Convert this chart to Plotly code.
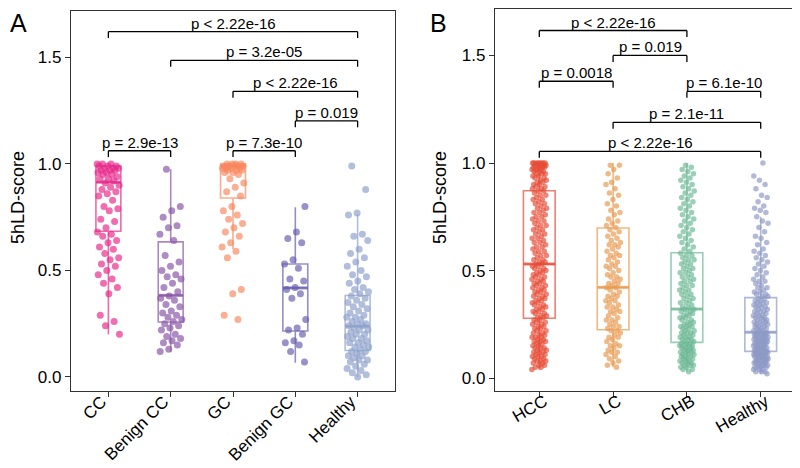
import plotly.graph_objects as go

FONT = "Liberation Sans, Arial, sans-serif"

# ---------------- Panel A data ----------------
cats_a = ["CC", "Benign CC", "GC", "Benign GC", "Healthy"]
cc = [1.0, 1.0, 1.0, 0.99, 0.99, 0.99, 0.98, 0.98, 0.98, 0.97, 0.97, 0.97, 0.96, 0.96, 0.95, 0.95,
      0.94, 0.93, 0.93, 0.92, 0.91, 0.90, 0.89, 0.88, 0.87, 0.86, 0.85, 0.83, 0.80, 0.79, 0.78, 0.74,
      0.73, 0.70, 0.68, 0.67, 0.66, 0.64, 0.63, 0.61, 0.60, 0.58, 0.56, 0.55, 0.53, 0.52, 0.50, 0.48,
      0.46, 0.44, 0.42, 0.39, 0.29, 0.26, 0.24, 0.20]
benign_cc = [0.975, 0.80, 0.78, 0.75, 0.71, 0.70, 0.67, 0.64, 0.57, 0.54, 0.52, 0.50, 0.48, 0.47, 0.46,
             0.44, 0.42, 0.40, 0.38, 0.37, 0.36, 0.34, 0.33, 0.31, 0.30, 0.29, 0.28, 0.27, 0.26, 0.25,
             0.24, 0.23, 0.22, 0.20, 0.19, 0.18, 0.17, 0.16, 0.15, 0.13, 0.12]
gc = [1.0, 1.0, 1.0, 1.0, 0.99, 0.99, 0.99, 0.99, 0.99, 0.98, 0.98, 0.98, 0.98, 0.97, 0.97, 0.97, 0.96,
      0.96, 0.95, 0.93, 0.91, 0.89, 0.87, 0.85, 0.80, 0.78, 0.76, 0.74, 0.72, 0.70, 0.68, 0.66, 0.63,
      0.61, 0.59, 0.56, 0.41, 0.39, 0.29, 0.27]
benign_gc = [0.80, 0.68, 0.65, 0.63, 0.55, 0.53, 0.51, 0.46, 0.45, 0.42, 0.41, 0.39, 0.37, 0.27, 0.23,
             0.22, 0.20, 0.17, 0.16, 0.15, 0.12, 0.07]
healthy_a = [0.99, 0.88, 0.77, 0.76, 0.67, 0.66, 0.64, 0.60, 0.58, 0.56, 0.54, 0.52, 0.50, 0.48, 0.47,
             0.45, 0.44, 0.42, 0.41, 0.40, 0.39, 0.38, 0.37, 0.36, 0.35, 0.34, 0.33, 0.32, 0.31, 0.30,
             0.29, 0.28, 0.28, 0.27, 0.26, 0.25, 0.25, 0.24, 0.24, 0.23, 0.22, 0.22, 0.21, 0.20, 0.20,
             0.19, 0.18, 0.18, 0.17, 0.16, 0.16, 0.15, 0.14, 0.14, 0.13, 0.12, 0.12, 0.11, 0.10, 0.10,
             0.09, 0.08, 0.08, 0.07, 0.06, 0.05, 0.04, 0.03, 0.02, 0.01, 0.0]
vals_a = [cc, benign_cc, gc, benign_gc, healthy_a]
q1_a = [0.684, 0.258, 0.84, 0.216, 0.124]
med_a = [0.914, 0.383, 0.99, 0.418, 0.238]
q3_a = [0.99, 0.634, 1.0, 0.53, 0.382]
lo_a = [0.20, 0.12, 0.60, 0.067, 0.0]
hi_a = [1.0, 0.975, 1.0, 0.797, 0.765]
colors_a = ["#E7298A", "#8856A7", "#F7875E", "#675EB0", "#8DA0CB"]
comp_a = [(0, 4, "p < 2.22e-16"), (1, 4, "p = 3.2e-05"), (2, 4, "p < 2.22e-16"),
          (3, 4, "p = 0.019"), (0, 1, "p = 2.9e-13"), (2, 3, "p = 7.3e-10")]
level_a = [1.621, 1.486, 1.341, 1.202, 1.062, 1.062]

# ---------------- Panel B data ----------------
cats_b = ["HCC", "LC", "CHB", "Healthy"]
hcc = [0.04, 0.05, 0.05, 0.06, 0.06, 0.07, 0.07, 0.08, 0.08, 0.08, 0.09, 0.09, 0.10, 0.10, 0.10,
       0.11, 0.11, 0.12, 0.12, 0.12, 0.13, 0.13, 0.14, 0.14, 0.14, 0.15, 0.15, 0.16, 0.16, 0.17, 0.17,
       0.17, 0.18, 0.18, 0.19, 0.19, 0.19, 0.20, 0.20, 0.21,
       0.21, 0.22, 0.22, 0.23, 0.23, 0.24, 0.24, 0.25, 0.25, 0.26, 0.26, 0.27, 0.27, 0.28, 0.28,
       0.29, 0.29, 0.30, 0.30, 0.31, 0.31, 0.32, 0.32, 0.33, 0.33, 0.34, 0.34, 0.35, 0.35, 0.36, 0.36,
       0.37, 0.37, 0.38, 0.38, 0.39, 0.39, 0.40, 0.40,
       0.41, 0.41, 0.42, 0.42, 0.43, 0.43, 0.44, 0.44, 0.45, 0.45, 0.46, 0.46, 0.47, 0.47, 0.48, 0.48,
       0.49, 0.49, 0.50, 0.50, 0.51, 0.51, 0.52, 0.52, 0.53, 0.53,
       0.54, 0.54, 0.55, 0.55, 0.56, 0.57, 0.57, 0.58, 0.59, 0.59, 0.60, 0.61, 0.61, 0.62, 0.63, 0.63,
       0.64, 0.65, 0.65, 0.66, 0.67, 0.67, 0.68, 0.69, 0.69, 0.70,
       0.71, 0.71, 0.72, 0.73, 0.73, 0.74, 0.75, 0.75, 0.76, 0.77, 0.77, 0.78, 0.79, 0.79, 0.80, 0.81,
       0.81, 0.82, 0.83, 0.83, 0.84, 0.85, 0.85, 0.86, 0.87,
       0.87, 0.88, 0.88, 0.89, 0.89, 0.90, 0.90, 0.91, 0.91, 0.92, 0.92, 0.93, 0.93, 0.94, 0.94, 0.95, 0.95,
       0.95, 0.96, 0.96, 0.96, 0.97, 0.97, 0.97, 0.97, 0.98, 0.98, 0.98, 0.98, 0.99, 0.99, 0.99, 0.99,
       0.99, 1.0, 1.0, 1.0, 1.0, 1.0, 1.0, 1.0, 1.0]
lc = [0.99, 0.99, 0.97, 0.95, 0.93, 0.91, 0.90, 0.88, 0.86, 0.85, 0.83, 0.81, 0.80, 0.78, 0.77, 0.76,
      0.74, 0.73, 0.72, 0.71, 0.70, 0.69, 0.68, 0.67, 0.66, 0.65, 0.64, 0.63, 0.62, 0.62, 0.61, 0.60,
      0.59, 0.58, 0.57, 0.57, 0.56, 0.55, 0.54, 0.53, 0.52, 0.52, 0.51, 0.50, 0.49, 0.48, 0.47, 0.47,
      0.46, 0.45, 0.44, 0.44, 0.43, 0.42, 0.42, 0.41, 0.40, 0.39, 0.38, 0.38, 0.37, 0.36, 0.36, 0.35,
      0.34, 0.33, 0.33, 0.32, 0.31, 0.31, 0.30, 0.29, 0.28, 0.27, 0.27, 0.26, 0.25, 0.24, 0.24, 0.23,
      0.22, 0.22, 0.21, 0.20, 0.19, 0.19, 0.18, 0.17, 0.16, 0.15, 0.15, 0.14, 0.13, 0.12, 0.12, 0.11,
      0.10, 0.09, 0.08, 0.07, 0.06, 0.05]
chb = [0.03, 0.04, 0.04, 0.05, 0.05, 0.06, 0.06, 0.06, 0.07, 0.07, 0.07, 0.08, 0.08, 0.08, 0.09, 0.09,
       0.09, 0.10, 0.10, 0.10, 0.11, 0.11, 0.11, 0.12, 0.12, 0.12, 0.13, 0.13, 0.13, 0.13, 0.14, 0.14,
       0.14, 0.15, 0.15, 0.15, 0.15, 0.16, 0.16, 0.16,
       0.17, 0.17, 0.18, 0.18, 0.18, 0.19, 0.19, 0.19, 0.20, 0.20, 0.21, 0.21, 0.21, 0.22, 0.22, 0.23,
       0.23, 0.24, 0.24, 0.24, 0.25, 0.25, 0.26, 0.26, 0.27, 0.27, 0.28, 0.28, 0.29, 0.29, 0.30, 0.30,
       0.31, 0.31, 0.32, 0.32,
       0.33, 0.33, 0.34, 0.35, 0.35, 0.36, 0.37, 0.37, 0.38, 0.39, 0.39, 0.40, 0.41, 0.41, 0.42, 0.43,
       0.43, 0.44, 0.45, 0.45, 0.46, 0.47, 0.47, 0.48, 0.49, 0.49, 0.50, 0.51, 0.51, 0.52, 0.53, 0.53,
       0.54, 0.55, 0.55, 0.56, 0.57, 0.57, 0.58,
       0.59, 0.60, 0.61, 0.62, 0.63, 0.64, 0.65, 0.66, 0.67, 0.68, 0.69, 0.70, 0.71, 0.72, 0.73, 0.74,
       0.75, 0.76, 0.77, 0.78, 0.79, 0.80, 0.81, 0.82, 0.83, 0.84, 0.85, 0.86, 0.87, 0.88, 0.89, 0.90,
       0.91, 0.92, 0.93, 0.94, 0.95, 0.96, 0.97, 0.98, 0.99]
healthy_b = [0.02, 0.03, 0.03, 0.03, 0.04, 0.04, 0.04, 0.05, 0.05, 0.05, 0.05, 0.06, 0.06, 0.06, 0.06,
             0.07, 0.07, 0.07, 0.07, 0.07, 0.08, 0.08, 0.08, 0.08, 0.08, 0.09, 0.09, 0.09, 0.09, 0.09,
             0.10, 0.10, 0.10, 0.10, 0.10, 0.10, 0.11, 0.11, 0.11, 0.11, 0.11, 0.11, 0.12, 0.12, 0.12,
             0.12, 0.12, 0.12,
             0.13, 0.13, 0.13, 0.13, 0.13, 0.14, 0.14, 0.14, 0.14, 0.14, 0.15, 0.15, 0.15, 0.15, 0.15,
             0.16, 0.16, 0.16, 0.16, 0.16, 0.17, 0.17, 0.17, 0.17, 0.17, 0.18, 0.18, 0.18, 0.18, 0.18,
             0.19, 0.19, 0.19, 0.19, 0.19, 0.20, 0.20, 0.20, 0.20, 0.20, 0.21, 0.21, 0.21, 0.21, 0.21,
             0.22, 0.22, 0.22, 0.23, 0.23, 0.23, 0.24, 0.24, 0.24, 0.25, 0.25, 0.25, 0.26, 0.26, 0.26,
             0.27, 0.27, 0.27, 0.28, 0.28, 0.28, 0.29, 0.29, 0.29, 0.30, 0.30, 0.31, 0.31, 0.31, 0.32,
             0.32, 0.33, 0.33, 0.33, 0.34, 0.34, 0.35, 0.35, 0.35, 0.36, 0.36, 0.37, 0.37,
             0.38, 0.38, 0.39, 0.39, 0.40, 0.40, 0.41, 0.42, 0.42, 0.43, 0.44, 0.45, 0.45, 0.46, 0.47,
             0.48, 0.49, 0.50, 0.51, 0.52, 0.53, 0.54, 0.55, 0.56, 0.57, 0.58, 0.59, 0.60, 0.62, 0.63,
             0.65, 0.66, 0.68, 0.70, 0.72, 0.73, 0.75, 0.77, 0.78, 0.79, 0.80, 0.82, 0.84, 0.85, 0.88,
             0.90, 0.92, 0.94, 1.0]
vals_b = [hcc, lc, chb, healthy_b]
q1_b = [0.278, 0.225, 0.166, 0.124]
med_b = [0.53, 0.422, 0.321, 0.213]
q3_b = [0.871, 0.698, 0.583, 0.374]
lo_b = [0.04, 0.05, 0.03, 0.02]
hi_b = [1.0, 1.0, 1.0, 0.75]
colors_b = ["#E64B35", "#E89A4F", "#6DB895", "#8D9AC6"]
comp_b = [(0, 2, "p < 2.22e-16"), (1, 2, "p = 0.019"), (0, 1, "p = 0.0018"),
          (2, 3, "p = 6.1e-10"), (1, 3, "p = 2.1e-11"), (0, 3, "p < 2.22e-16")]
level_b = [1.616, 1.50, 1.38, 1.333, 1.189, 1.054]


def rgba(hx, a):
    hx = hx.lstrip("#")
    r, g, b = int(hx[0:2], 16), int(hx[2:4], 16), int(hx[4:6], 16)
    return f"rgba({r},{g},{b},{a})"


fig = go.Figure()
shapes = []
annotations = []


def add_panel(xa, ya, cats, vals, q1, med, q3, lo, hi, colors, comps, levels,
              jw, msize, bw):
    xr = "x" if xa == "x" else "x2"
    yr = "y" if ya == "y" else "y2"
    for i, (v, col) in enumerate(zip(vals, colors)):
        n = len(v)
        xs = [i + (((k * 0.6180339887 + 0.31 * i) % 1.0) - 0.5) * 2 * jw for k in range(n)]
        fig.add_trace(go.Scatter(
            x=xs, y=v, mode="markers", xaxis=xr, yaxis=yr,
            marker=dict(size=msize, color=rgba(col, 0.68), line=dict(width=0)),
            hoverinfo="skip", showlegend=False))
    for i, col in enumerate(colors):
        fig.add_trace(go.Box(
            x=[i], q1=[q1[i]], median=[med[i]], q3=[q3[i]],
            lowerfence=[lo[i]], upperfence=[hi[i]], width=bw,
            xaxis=xr, yaxis=yr, boxpoints=False,
            fillcolor="rgba(0,0,0,0)", line=dict(color=rgba(col, 0.7), width=1.6),
            whiskerwidth=0, hoverinfo="skip", showlegend=False))
        fig.add_trace(go.Scatter(
            x=[i - bw / 2, i + bw / 2], y=[med[i], med[i]], mode="lines",
            xaxis=xr, yaxis=yr, line=dict(color=rgba(col, 0.7), width=3),
            hoverinfo="skip", showlegend=False))
    tip = 0.03
    for (a, b, lab), lv in zip(comps, levels):
        for seg in [(a, lv - tip, a, lv), (a, lv, b, lv), (b, lv, b, lv - tip)]:
            shapes.append(dict(type="line", xref=xr, yref=yr,
                               x0=seg[0], y0=seg[1], x1=seg[2], y1=seg[3],
                               line=dict(color="black", width=1.3)))
        annotations.append(dict(x=(a + b) / 2, y=lv, xref=xr, yref=yr, text=lab,
                                showarrow=False, yanchor="bottom", yshift=-2,
                                font=dict(family=FONT, size=15, color="black")))


add_panel("x", "y", cats_a, vals_a, q1_a, med_a, q3_a, lo_a, hi_a, colors_a,
          comp_a, level_a, jw=0.18, msize=7, bw=0.4)
add_panel("x2", "y2", cats_b, vals_b, q1_b, med_b, q3_b, lo_b, hi_b, colors_b,
          comp_b, level_b, jw=0.1, msize=5.5, bw=0.43)

axis_common = dict(showline=True, mirror=True, linecolor="#333333", linewidth=1.3,
                   ticks="outside", ticklen=5, tickwidth=1.2, tickcolor="#333333",
                   showgrid=False, zeroline=False,
                   tickfont=dict(family=FONT, size=17, color="black"))

fig.update_layout(
    width=800, height=468, margin=dict(l=0, r=0, t=0, b=0),
    paper_bgcolor="white", plot_bgcolor="white", showlegend=False,
    xaxis=dict(domain=[63 / 800, 387 / 800], range=[-0.6, 4.6],
               tickvals=list(range(len(cats_a))), ticktext=cats_a, tickangle=-45,
               ticklabelstandoff=-12, ticklabelshift=-7, anchor="y", **axis_common),
    yaxis=dict(domain=[1 - 383 / 468, 1 - 3 / 468], range=[-0.066, 1.718],
               tickvals=[0, 0.5, 1.0, 1.5], tickformat=".1f", anchor="x", **axis_common),
    xaxis2=dict(domain=[487 / 800, 797 / 800], range=[-0.6, 3.6],
                tickvals=list(range(len(cats_b))), ticktext=cats_b, tickangle=-30,
                ticklabelstandoff=-12, ticklabelshift=5, anchor="y2", **axis_common),
    yaxis2=dict(domain=[1 - 383 / 468, 1 - 1 / 468], range=[-0.06, 1.716],
                tickvals=[0, 0.5, 1.0, 1.5], tickformat=".1f", anchor="x2", **axis_common),
    shapes=shapes,
)

annotations += [
    dict(x=10 / 800, y=1 - 190 / 468, xref="paper", yref="paper", text="5hLD-score",
         xanchor="center", yanchor="middle",
         textangle=-90, showarrow=False, font=dict(family=FONT, size=18, color="black")),
    dict(x=432 / 800, y=1 - 190 / 468, xref="paper", yref="paper", text="5hLD-score",
         xanchor="center", yanchor="middle",
         textangle=-90, showarrow=False, font=dict(family=FONT, size=18, color="black")),
    dict(x=10 / 800, y=1 - 15 / 468, xref="paper", yref="paper", text="A",
         xanchor="center", yanchor="middle",
         showarrow=False, font=dict(family=FONT, size=25, color="black")),
    dict(x=430 / 800, y=1 - 15 / 468, xref="paper", yref="paper", text="B",
         xanchor="center", yanchor="middle",
         showarrow=False, font=dict(family=FONT, size=25, color="black")),
]
fig.update_layout(annotations=annotations)

fig.write_html("out.html")
